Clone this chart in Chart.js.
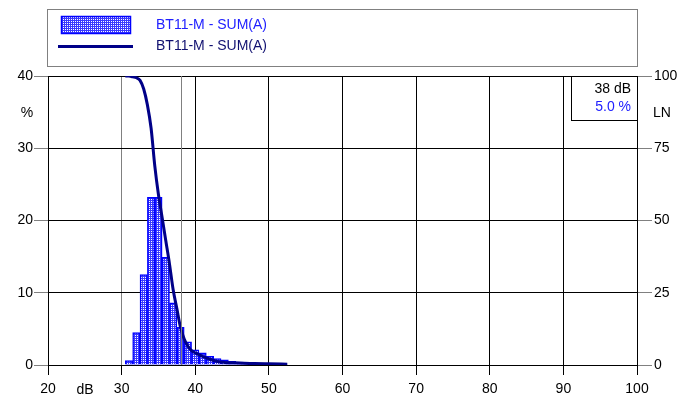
<!DOCTYPE html>
<html>
<head>
<meta charset="utf-8">
<script src="https://cdn.jsdelivr.net/npm/chart.js@4.4.1/dist/chart.umd.min.js"></script>
<style>
html,body{margin:0;padding:0;background:#fff;}
#wrap{width:696px;height:396px;position:relative;}
</style>
</head>
<body>
<div id="wrap"><canvas id="c" width="696" height="396"></canvas></div>
<script>
// ---- data ----
const seriesName = "BT11-M - SUM(A)";
const barDb  = [31, 32, 33, 34, 35, 36, 37, 38, 39, 40, 41, 42, 43, 44, 45, 46, 47, 48, 49, 50, 51, 52];
const barPct = [0.6, 4.5, 12.5, 23.2, 23.2, 14.9, 8.6, 5.2, 3.2, 2.1, 1.7, 1.2, 0.9, 0.7, 0.5, 0.4, 0.3, 0.3, 0.2, 0.2, 0.1, 0.1];
const lnDb  = [30.5, 31, 31.5, 32, 32.5, 33, 33.5, 34, 34.5, 35, 35.5, 36, 36.5, 37, 37.5, 38, 38.5, 39, 39.5, 40, 41, 42, 43, 44, 46, 48, 50, 52.5];
const lnPct = [100, 100, 99.7, 99.4, 98.5, 95.5, 90, 82, 69, 59, 51, 43, 35, 26, 19.5, 13, 9, 6.5, 5, 4.2, 3, 2, 1.2, 0.9, 0.7, 0.5, 0.4, 0.3];
const xTicks = [20, 30, 40, 50, 60, 70, 80, 90, 100];
const yLeftTicks = [0, 10, 20, 30, 40];
const yRightTicks = [0, 25, 50, 75, 100];
const markerDb = 38;
const markerText = ["38 dB", "5.0 %"];

const FONT = "Liberation Sans, Arial, sans-serif";

// pattern fill for bars
function makePattern(){
  const p = document.createElement('canvas');
  p.width = 2; p.height = 2;
  const g = p.getContext('2d');
  g.fillStyle = '#3a3aff'; g.fillRect(0,0,2,2);
  g.fillStyle = '#ffffff'; g.fillRect(1,1,1,1);
  return g.createPattern(p, 'repeat');
}
const ctx = document.getElementById('c').getContext('2d');
const pattern = makePattern();

const decor = {
  id: 'decor',
  afterDatasetsDraw(chart){
    const c = chart.ctx, a = chart.chartArea;
    const xs = chart.scales.x;
    c.save();
    // marker line at 38 dB
    const mx = Math.round(xs.getPixelForValue(markerDb)) + 0.5;
    c.strokeStyle = '#808080'; c.lineWidth = 1;
    c.beginPath(); c.moveTo(mx, a.top); c.lineTo(mx, a.bottom); c.stroke();
    c.restore();
  },
  afterDraw(chart){
    const c = chart.ctx, a = chart.chartArea;
    c.save();
    // legend box
    c.strokeStyle = '#808080'; c.lineWidth = 1;
    c.strokeRect(47.5, 9.5, 590, 57);
    // bar swatch
    c.fillStyle = pattern; c.fillRect(61, 16, 70, 18);
    c.strokeStyle = '#0000ff'; c.lineWidth = 1.5; c.strokeRect(61.5, 16.5, 69, 17);
    // line swatch
    c.strokeStyle = '#000088'; c.lineWidth = 3;
    c.beginPath(); c.moveTo(58, 46.5); c.lineTo(133, 46.5); c.stroke();
    c.font = '14px ' + FONT; c.textBaseline = 'middle'; c.textAlign = 'left';
    c.fillStyle = '#2020ff'; c.fillText(seriesName, 156, 25);
    c.fillStyle = '#101070'; c.fillText(seriesName, 156, 46);
    // marker box
    c.lineWidth = 1; c.strokeStyle = '#000';
    c.fillStyle = '#fff';
    c.fillRect(571, a.top, a.right - 571, 44);
    c.strokeRect(571.5, a.top + 0.5, a.right - 571, 44);
    c.textAlign = 'right';
    c.fillStyle = '#000'; c.fillText(markerText[0], 631, 89);
    c.fillStyle = '#2020ff'; c.fillText(markerText[1], 631, 107);
    // axis unit labels
    c.fillStyle = '#000';
    c.textAlign = 'center'; c.fillText('%', 27, 113);
    c.textAlign = 'left'; c.fillText('LN', 653, 113);
    c.textAlign = 'center'; c.fillText('dB', 85, 390);
    c.restore();
  }
};

new Chart(ctx, {
  type: 'bar',
  data: {
    datasets: [
      {
        type: 'line',
        label: seriesName,
        data: lnDb.map((d,i)=>({x:d, y:lnPct[i]})),
        yAxisID: 'y2',
        borderColor: '#000088',
        borderWidth: 3,
        pointRadius: 0,
        cubicInterpolationMode: 'monotone',
        fill: false,
        order: 0
      },
      {
        type: 'bar',
        label: seriesName,
        data: barDb.map((d,i)=>({x:d, y:barPct[i]})),
        yAxisID: 'y',
        backgroundColor: pattern,
        borderColor: '#0000ff',
        borderWidth: 1.5,
        barPercentage: 1,
        categoryPercentage: 1,
        grouped: false,
        order: 1
      }
    ]
  },
  options: {
    responsive: false,
    animation: false,
    devicePixelRatio: 1,
    layout: { padding: { top: 76, left: 0, right: 0, bottom: 0 } },
    plugins: { legend: { display: false }, tooltip: { enabled: false } },
    scales: {
      x: {
        type: 'linear', min: 20, max: 100, offset: false,
        afterBuildTicks(s){ s.ticks = xTicks.map(v=>({value:v})); },
        afterFit(s){ s.height = 31; },
        grid: {
          offset: false,
          color: (c)=> (c.tick && c.tick.value === 30) ? '#808080' : '#000',
          tickColor: '#000', tickLength: 10, lineWidth: 1
        },
        border: { color: '#000' },
        ticks: { font: { family: FONT, size: 14 }, color: '#000', padding: 6, maxRotation: 0, autoSkip: false }
      },
      y: {
        type: 'linear', position: 'left', min: 0, max: 40, z: 1,
        afterBuildTicks(s){ s.ticks = yLeftTicks.map(v=>({value:v})); },
        afterFit(s){ s.width = 48; },
        grid: { color: '#000', tickColor: '#808080', tickLength: 14 },
        border: { color: '#000' },
        ticks: { font: { family: FONT, size: 14 }, color: '#000', padding: 1 }
      },
      y2: {
        type: 'linear', position: 'right', min: 0, max: 100,
        afterBuildTicks(s){ s.ticks = yRightTicks.map(v=>({value:v})); },
        afterFit(s){ s.width = 59; },
        grid: { drawOnChartArea: false, tickColor: '#808080', tickLength: 15 },
        border: { color: '#000' },
        ticks: { font: { family: FONT, size: 14 }, color: '#000', padding: 2 }
      }
    }
  },
  plugins: [decor]
});
</script>
</body>
</html>
